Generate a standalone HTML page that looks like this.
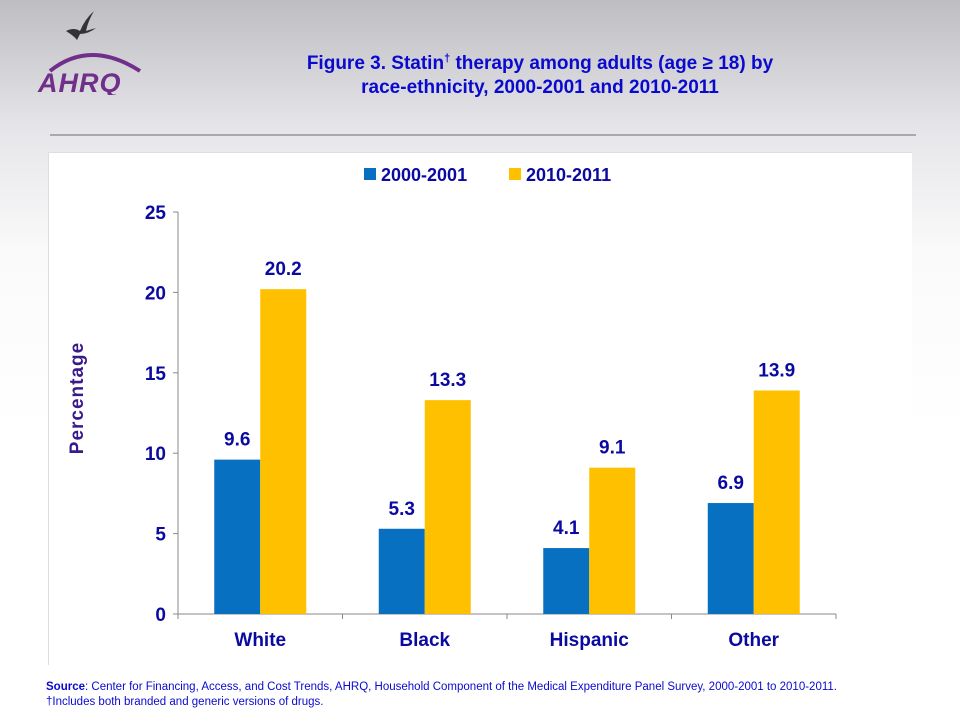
<!DOCTYPE html>
<html><head><meta charset="utf-8"><style>
body{margin:0;width:960px;height:720px;overflow:hidden;font-family:"Liberation Sans",Arial,sans-serif;background:linear-gradient(180deg,#bdbdc2 0%,#e6e6ea 18%,#fafafa 35%,#ffffff 60%);}
.t{position:absolute;}
</style></head><body>
<div class="t" style="left:36px;top:5px;width:110px;height:90px">
<svg width="110" height="90"><path d="M30 26 q8 -4 14 0 q5 -12 14 -20 q-6 10 -8 20 q6 -2 10 -3 q-8 6 -16 6 l-3 6 q-3 -4 -11 -9z" fill="#333"/>
<path d="M14 66 q40 -32 90 0" stroke="#702F8A" stroke-width="4" fill="none"/>
<text x="2" y="87" font-family="Liberation Sans" font-weight="bold" font-style="italic" font-size="27" fill="#702F8A" letter-spacing="1">AHRQ</text></svg></div>
<div class="t" style="left:240px;top:52px;width:600px;text-align:center;color:#0A0ACF;font-weight:bold;font-size:19px;line-height:24px">Figure 3. Statin<sup style="font-size:11px;line-height:0">†</sup> therapy among adults (age ≥ 18) by<br>race-ethnicity, 2000-2001 and 2010-2011</div>
<div class="t" style="left:50px;top:134px;width:866px;height:2px;background:#a9a9ad"></div>
<div class="t" style="left:48px;top:152px;width:863px;height:512px;background:#fff;border-left:1px solid #ddd;border-top:1px solid #ddd"></div>
<svg class="t" style="left:0;top:0" width="960" height="720" id="chart"></svg>
<div class="t" style="left:46px;top:680px;font-size:11.5px;color:#0A0ACF;line-height:15px"><b>Source</b>: Center for Financing, Access, and Cost Trends, AHRQ,  Household Component of the Medical Expenditure Panel Survey,  2000-2001 to  2010-2011.<br>†Includes both branded and generic versions of drugs.</div>
<script>
const categories=["White","Black","Hispanic","Other"];
const series2000=[9.6,5.3,4.1,6.9];
const series2010=[20.2,13.3,9.1,13.9];
const yTicks=[0,5,10,15,20,25];
const seriesNames=["2000-2001","2010-2011"];
const colors=["#0870C0","#FFC000"];
const svg=document.getElementById('chart');const NS="http://www.w3.org/2000/svg";
const x0=178,x1=836,yB=614,yT=212,yMax=25;
const y=v=>yB-(v/yMax)*(yB-yT);
const gw=(x1-x0)/categories.length,bw=46;
function el(t,a,txt){const e=document.createElementNS(NS,t);for(const k in a)e.setAttribute(k,a[k]);if(txt!=null)e.textContent=txt;svg.appendChild(e);return e;}
let e;
e=el('line',{x1:x0,y1:yT,x2:x0,y2:yB,stroke:'#888'});


e=el('line',{x1:x0,y1:yB,x2:x1,y2:yB,stroke:'#888'});


yTicks.forEach(v=>{
 e=el('line',{x1:x0-5,y1:y(v),x2:x0,y2:y(v),stroke:'#888'});
 
 
 e=el('text',{x:x0-12,y:y(v)+7,'text-anchor':'end','font-size':19,'font-weight':'bold',fill:'#0A0AA0'},v);
 
 
});
for(let i=0;i<=categories.length;i++){e=el('line',{x1:x0+i*gw,y1:yB,x2:x0+i*gw,y2:yB+5,stroke:'#888'});
 
 }
[series2000,series2010].forEach((s,si)=>{
 s.forEach((v,i)=>{
  const cx=x0+gw*i+gw/2;const bx=si===0?cx-bw:cx;
  e=el('rect',{x:bx,y:y(v),width:bw,height:yB-y(v),fill:colors[si]});
  
  
  e=el('text',{x:bx+bw/2,y:y(v)-14,'text-anchor':'middle','font-size':19,'font-weight':'bold',fill:'#0A0AA0'},v.toFixed(1));
  
  
 });
});
categories.forEach((c,i)=>{
 e=el('text',{x:x0+gw*i+gw/2,y:646,'text-anchor':'middle','font-size':19,'font-weight':'bold',fill:'#0A0AA0'},c);
 
 
});
e=el('text',{x:0,y:0,transform:'translate(83,398) rotate(-90)','text-anchor':'middle','font-size':19,'font-weight':'bold',fill:'#3A1A8A','letter-spacing':'1'},'Percentage');


const lx=[364,509];
seriesNames.forEach((n,i)=>{
 e=el('rect',{x:lx[i],y:168,width:12,height:12,fill:colors[i]});
 
 
 e=el('text',{x:lx[i]+17,y:181,'font-size':18,'font-weight':'bold',fill:'#0A0AA0'},n);
 
 
});
</script>
</body></html>
